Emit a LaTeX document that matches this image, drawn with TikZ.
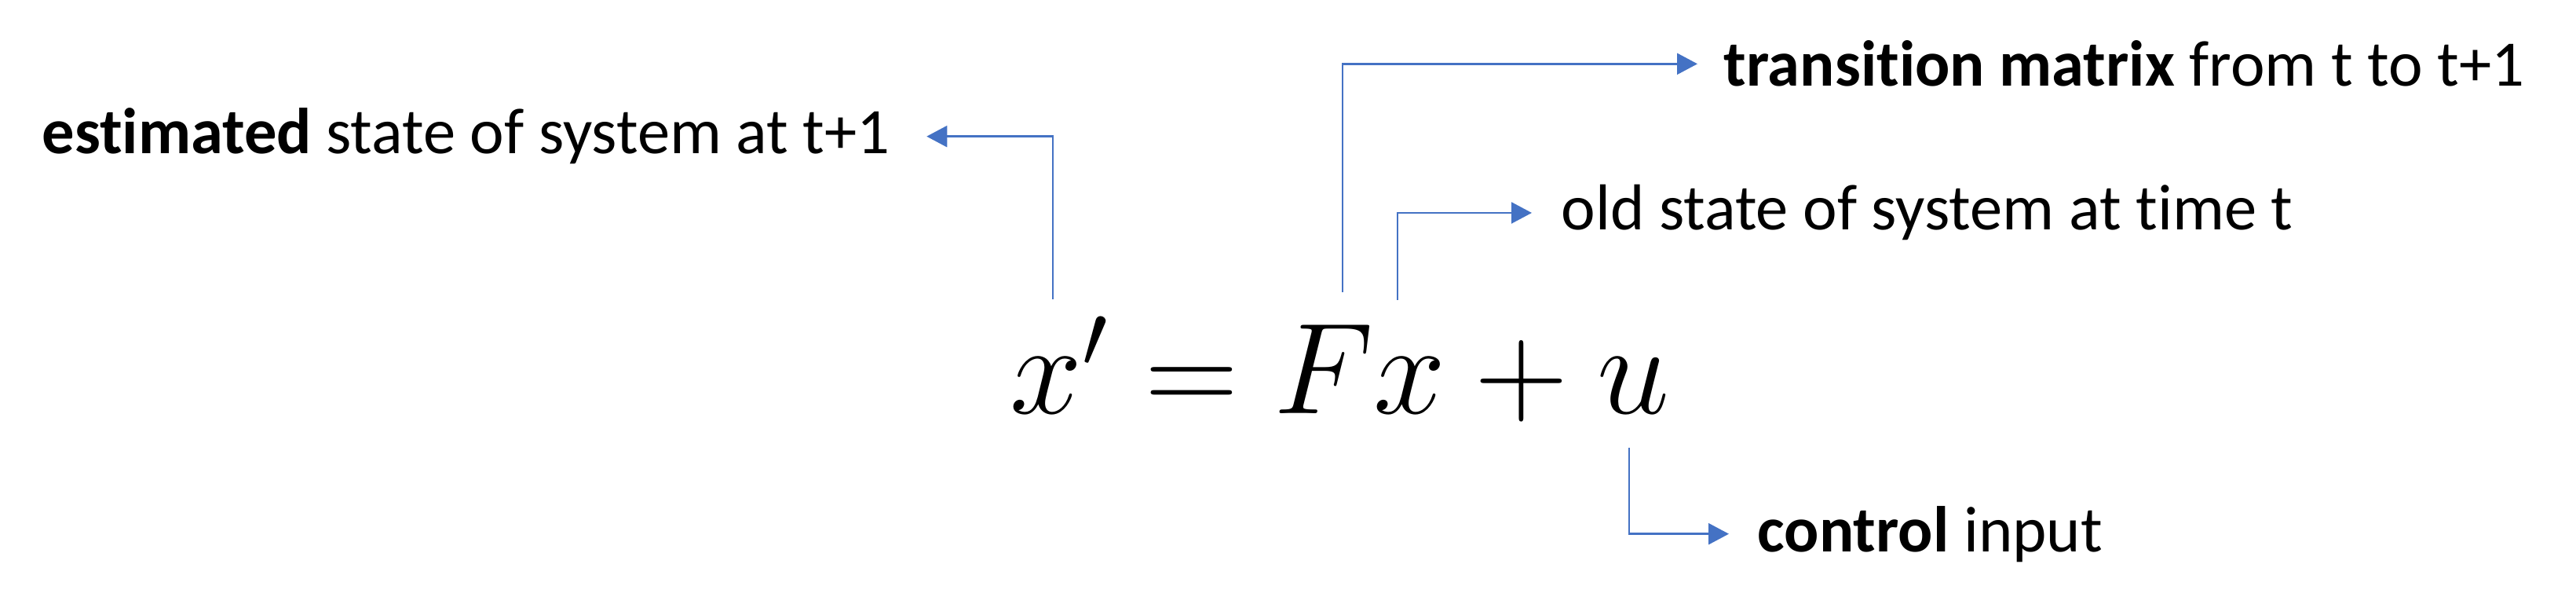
\documentclass[tikz,border=0pt]{standalone}
\usepackage{fix-cm}
\usepackage[no-math]{fontspec}
\setmainfont[RawFeature={-liga}]{Carlito}
\usetikzlibrary{arrows.meta}
\definecolor{linkblue}{HTML}{4472C4}
\begin{document}
\begin{tikzpicture}[x=1cm,y=-1cm,
  lbl/.style={anchor=base west,inner sep=0pt,font=\fontsize{23.5}{28}\selectfont},
  link/.style={draw=linkblue,line width=0.7pt,-{Triangle[length=2.6mm,width=2.7mm]}}]
  \useasboundingbox (0,0) rectangle (32.81,7.74);
  \node[lbl] (est) at (0.53,1.96) {\textbf{estimated} state of system at t+1};
  \node[lbl] (trans) at (21.95,1.10) {\textbf{transition matrix} from t to t+1};
  \node[lbl] (old) at (19.88,2.93) {old state of system at time t};
  \node[lbl] (ctrl) at (22.38,7.02) {\textbf{control} input};
  \node[anchor=base west,inner sep=0pt,font=\fontsize{47}{56}\selectfont] (eq) at (12.86,5.27) {$x' = Fx + u$};
  \coordinate (xp) at (13.41,3.81);
  \coordinate (F) at (17.10,3.72);
  \coordinate (x) at (17.80,3.82);
  \coordinate (u) at (20.75,5.70);
  \draw[link] (xp) |- ([xshift=4.6mm]est.east);
  \draw[link] (F) |- ([xshift=-3.3mm]trans.west);
  \draw[link] (x) |- ([xshift=-3.7mm]old.west);
  \draw[link] (u) |- ([xshift=-3.6mm]ctrl.west);
\end{tikzpicture}
\end{document}
